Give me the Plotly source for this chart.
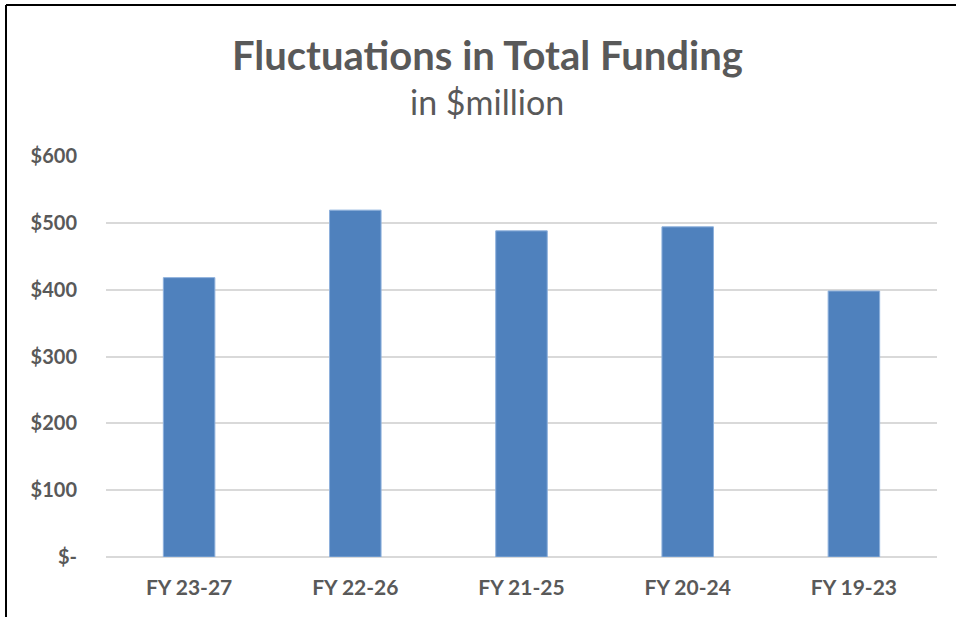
import plotly.graph_objects as go

# ── Data ──────────────────────────────────────────────────────────────────────
periods = ["FY 23-27", "FY 22-26", "FY 21-25", "FY 20-24", "FY 19-23"]
funding = [418, 519, 488, 494, 398]  # $ million

tick_vals = [0, 100, 200, 300, 400, 500, 600]
tick_text = ["$-", "$100", "$200", "$300", "$400", "$500", "$600"]

# ── Style ─────────────────────────────────────────────────────────────────────
W, H = 956, 617
ML, MR, MT, MB = 106, 19, 156, 60
TEXT = "#595959"
FONT = "Lato, Calibri, sans-serif"

fig = go.Figure(
    go.Bar(
        x=periods,
        y=funding,
        marker=dict(color="#4F81BD", line=dict(color="#8DB0DC", width=1)),
        hoverinfo="x+y",
    )
)

pw, ph = W - ML - MR, H - MT - MB

fig.update_layout(
    width=W,
    height=H,
    margin=dict(l=ML, r=MR, t=MT, b=MB),
    plot_bgcolor="#FFFFFF",
    paper_bgcolor="#FFFFFF",
    bargap=0.69,
    showlegend=False,
    font=dict(family=FONT, color=TEXT),
    xaxis=dict(
        showgrid=False,
        showline=False,
        ticks="",
        ticklabelstandoff=16,
        tickfont=dict(family=FONT, size=21, color=TEXT, weight="bold"),
    ),
    yaxis=dict(
        range=[0, 600],
        tickvals=tick_vals,
        ticktext=tick_text,
        showgrid=True,
        gridcolor="#D9D9D9",
        gridwidth=1.5,
        zeroline=True,
        zerolinecolor="#D9D9D9",
        zerolinewidth=1.5,
        showline=False,
        ticks="",
        ticklabelstandoff=28,
        tickfont=dict(family=FONT, size=20, color=TEXT, weight="bold"),
    ),
    annotations=[
        dict(
            text="<b>Fluctuations in Total Funding</b>",
            xref="paper", yref="paper",
            x=(487 - ML) / pw, y=1 + (MT - 55) / ph,
            xanchor="center", yanchor="middle",
            showarrow=False,
            font=dict(family=FONT, size=40, color=TEXT),
        ),
        dict(
            text="in $million",
            xref="paper", yref="paper",
            x=(487 - ML) / pw, y=1 + (MT - 102) / ph,
            xanchor="center", yanchor="middle",
            showarrow=False,
            font=dict(family=FONT, size=34, color=TEXT),
        ),
    ],
    shapes=[
        # frame lines (left and top) around the chart area
        dict(type="line", xref="paper", yref="paper",
             x0=(6 - ML) / pw, x1=(6 - ML) / pw,
             y0=-(MB + 5) / ph, y1=1 + (MT - 5) / ph,
             line=dict(color="#000000", width=2)),
        dict(type="line", xref="paper", yref="paper",
             x0=(6 - ML) / pw, x1=1 + (MR + 5) / pw,
             y0=1 + (MT - 5) / ph, y1=1 + (MT - 5) / ph,
             line=dict(color="#000000", width=2)),
    ],
)

# drop the default page margin so the figure sits at the window's corner
fig.write_html(
    "out.html",
    config={"displayModeBar": False},
    post_script="document.body.style.margin='0';",
)
